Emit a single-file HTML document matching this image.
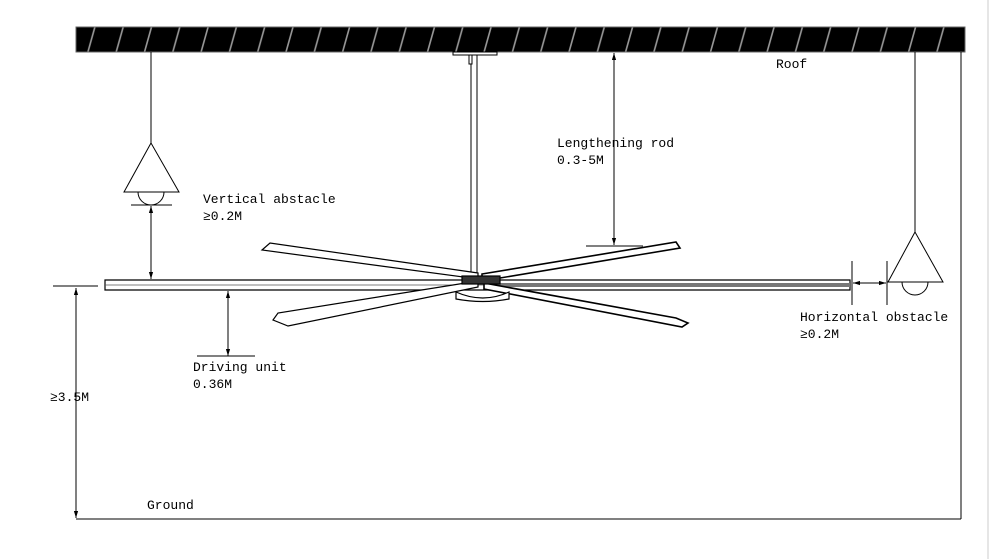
<!DOCTYPE html>
<html><head><meta charset="utf-8"><style>
html,body{margin:0;padding:0;background:#fff;}
svg{display:block}
text{font-family:"Liberation Mono",monospace;font-size:13px;fill:#000}
</style></head><body>
<svg width="995" height="559" viewBox="0 0 995 559" xmlns="http://www.w3.org/2000/svg">
<defs>
<marker id="a" viewBox="0 0 10 10" refX="10" refY="5" markerWidth="7" markerHeight="7" orient="auto-start-reverse"><path d="M0,2 L10,5 L0,8 z" fill="#000"/></marker>
<pattern id="h" x="0" y="27" width="28.3" height="25" patternUnits="userSpaceOnUse">
<rect width="28.3" height="25" fill="#000"/>
<line x1="3" y1="25" x2="10" y2="0" stroke="#999" stroke-width="1.6"/>
</pattern>
</defs>
<rect x="76" y="27" width="889" height="25" fill="url(#h)" stroke="#666" stroke-width="1"/>
<line x1="961" y1="52" x2="961" y2="519" stroke="#000" stroke-width="1"/>
<line x1="76" y1="519" x2="961" y2="519" stroke="#000" stroke-width="1"/>
<line x1="988" y1="0" x2="988" y2="559" stroke="#ccc" stroke-width="1"/>
<line x1="53" y1="286" x2="98" y2="286" stroke="#000"/>
<line x1="76" y1="288" x2="76" y2="518" stroke="#000" marker-start="url(#a)" marker-end="url(#a)"/>
<line x1="151" y1="52" x2="151" y2="143" stroke="#000"/>
<path d="M151,143 L124,192 L179,192 Z" fill="none" stroke="#000"/>
<path d="M138,192 A13,13 0 0 0 164,192" fill="none" stroke="#000"/>
<line x1="131" y1="205" x2="172" y2="205" stroke="#000"/>
<line x1="151" y1="206" x2="151" y2="279" stroke="#000" marker-start="url(#a)" marker-end="url(#a)"/>
<line x1="915" y1="52" x2="915" y2="232" stroke="#000"/>
<path d="M915,232 L888,282 L943,282 Z" fill="none" stroke="#000"/>
<path d="M902,282 A13,13 0 0 0 928,282" fill="none" stroke="#000"/>
<line x1="852" y1="261" x2="852" y2="305" stroke="#000"/>
<line x1="887" y1="261" x2="887" y2="305" stroke="#000"/>
<line x1="853" y1="283" x2="886" y2="283" stroke="#000" marker-start="url(#a)" marker-end="url(#a)"/>
<rect x="453" y="52" width="44" height="3" fill="#fff" stroke="#000"/>
<rect x="471" y="55" width="6" height="218" fill="#fff" stroke="#000"/>
<rect x="469" y="55" width="3" height="9" fill="#fff" stroke="#000"/>
<line x1="614" y1="53" x2="614" y2="245" stroke="#000" marker-start="url(#a)" marker-end="url(#a)"/>
<line x1="586" y1="246" x2="643" y2="246" stroke="#000"/>
<g fill="#fff" stroke="#000" stroke-width="1.2">
<path d="M105,280 L850,280 L850,290 L105,290 Z"/>
<line x1="105" y1="285" x2="850" y2="285" stroke="#555" stroke-width="0.8"/>
<rect x="500" y="283" width="350" height="4" fill="#777" stroke="none"/>
<path d="M478,273 L270,243 L262,250 L478,279 Z"/>
<path d="M478,281 L278,313 L273,320 L288,326 L478,287 Z"/>
<path d="M482,274 L676,242 L680,248 L482,281 Z" stroke-width="1.6"/>
<path d="M484,283 L676,318 L688,323 L682,327 L484,289 Z" stroke-width="1.6"/>
<path d="M456,292 Q483,304 509,292 L509,299 Q483,304 456,299 Z"/>
<rect x="462" y="276" width="38" height="8" fill="#333"/>
</g>
<line x1="228" y1="291" x2="228" y2="356" stroke="#000" marker-start="url(#a)" marker-end="url(#a)"/>
<line x1="197" y1="356" x2="255" y2="356" stroke="#000"/>
<text x="776" y="68">Roof</text>
<text x="557" y="147">Lengthening rod</text>
<text x="557" y="164">0.3-5M</text>
<text x="203" y="203">Vertical abstacle</text>
<text x="203" y="220">≥0.2M</text>
<text x="800" y="321">Horizontal obstacle</text>
<text x="800" y="338">≥0.2M</text>
<text x="193" y="371">Driving unit</text>
<text x="193" y="388">0.36M</text>
<text x="50" y="401">≥3.5M</text>
<text x="147" y="509">Ground</text>
</svg>
</body></html>
